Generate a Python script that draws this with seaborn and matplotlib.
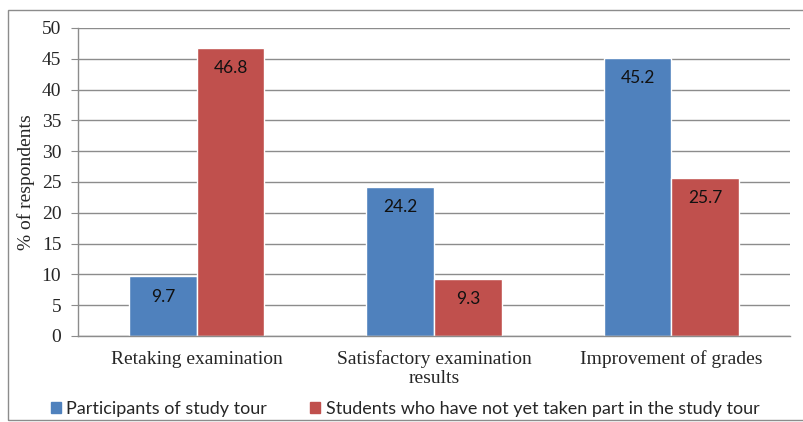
import matplotlib
matplotlib.use("Agg")
import matplotlib.pyplot as plt
import seaborn as sns
import pandas as pd
from matplotlib.patches import Rectangle

categories = ["Retaking examination", "Satisfactory examination\nresults", "Improvement of grades"]
series_names = ["Participants of study tour", "Students who have not yet taken part in the study tour"]
participants = [9.7, 24.2, 45.2]
non_participants = [46.8, 9.3, 25.7]
colors = ["#4F81BD", "#C0504D"]

rows = []
for c, v in zip(categories, participants):
    rows.append({"cat": c, "series": series_names[0], "val": v})
for c, v in zip(categories, non_participants):
    rows.append({"cat": c, "series": series_names[1], "val": v})
df = pd.DataFrame(rows)

sns.set_style("white")
plt.rcParams["font.family"] = ["Liberation Serif", "DejaVu Serif"]

fig = plt.figure(figsize=(8.04, 4.22), dpi=100)
ax = fig.add_axes([78/804, 1-336/422, (790-78)/804, (336-28)/422])

sns.barplot(data=df, x="cat", y="val", hue="series", order=categories,
            hue_order=series_names, palette=colors, width=0.57, ax=ax,
            saturation=1, legend=False, errorbar=None)

ax.set_ylim(0, 50)
ax.set_yticks(range(0, 51, 5))
ax.set_xlim(-0.5, 2.5)
ax.yaxis.grid(True, color="#8c8c8c", linewidth=1.0)
ax.set_axisbelow(True)
for s in ["top", "right"]:
    ax.spines[s].set_visible(False)
for s in ["left", "bottom"]:
    ax.spines[s].set_color("#8c8c8c")
    ax.spines[s].set_linewidth(1.0)
ax.tick_params(axis="y", left=True, length=5, color="#8c8c8c", labelsize=14, pad=7)
ax.tick_params(axis="x", bottom=False, labelsize=14, pad=7)
for lbl in ax.get_xticklabels():
    lbl.set_linespacing(1.15)
ax.set_xlabel("")
ax.set_ylabel("% of respondents", fontsize=14, labelpad=5)

for cont in ax.containers:
    for bar in cont:
        h = bar.get_height()
        ax.text(bar.get_x() + bar.get_width()/2, h - 3.3, f"{h:.1f}",
                ha="center", va="center", fontsize=12.5,
                family=["Lato", "DejaVu Sans"], color="#111111")

handles = [Rectangle((0, 0), 1, 1, color=c) for c in colors]
fig.legend(handles, series_names, loc="center", bbox_to_anchor=(405/804, 1-409/422),
           ncol=2, frameon=False, prop={"family": ["Lato", "DejaVu Sans"], "size": 13},
           handlelength=0.55, handleheight=0.55, handletextpad=0.3, columnspacing=2.4)

fig.patches.append(Rectangle((8/804, 2/422), 1.2, 1-12/422, transform=fig.transFigure,
                             fill=False, edgecolor="#8c8c8c", linewidth=1.0))

fig.savefig("out.png", dpi=100)
